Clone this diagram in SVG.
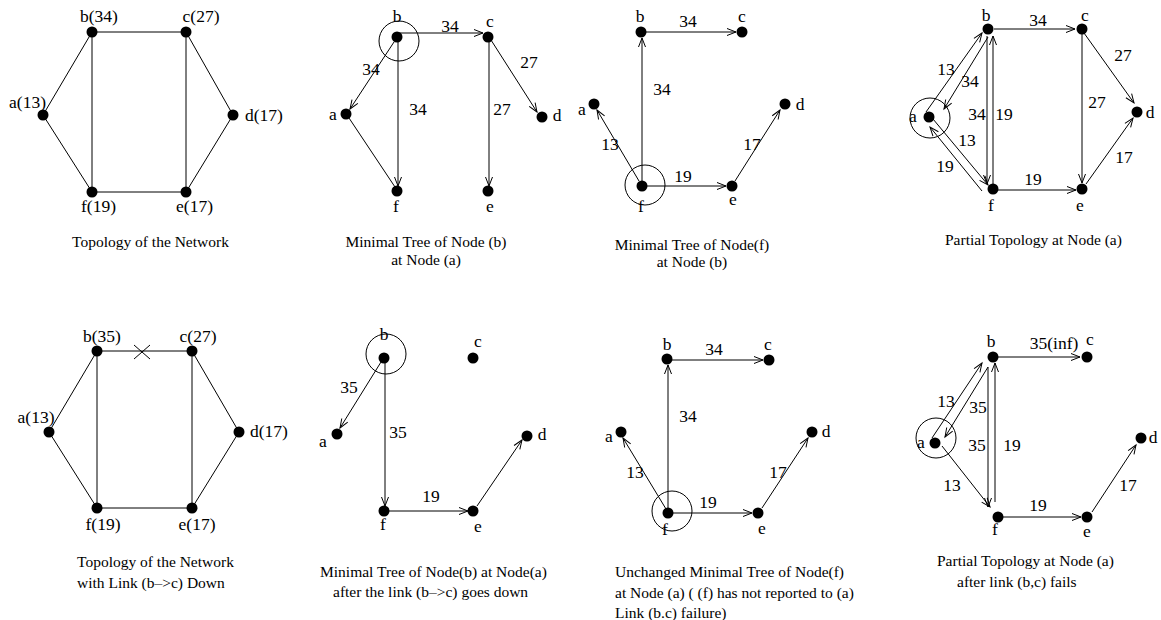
<svg xmlns="http://www.w3.org/2000/svg" width="1161" height="620" viewBox="0 0 1161 620">
<style>
.dot{fill:#000}
.ring{fill:none;stroke:#000;stroke-width:1}
.e{stroke:#000;stroke-width:1;fill:none}
.a{marker-end:url(#ah)}
text{font-family:"Liberation Serif","Times New Roman",serif;fill:#000}
.l{font-size:17.5px;text-anchor:middle}
.c{font-size:15.5px}
.m{text-anchor:middle}
</style>
<defs>
<marker id="ah" markerUnits="userSpaceOnUse" markerWidth="12" markerHeight="10" refX="9" refY="3.5" orient="auto" overflow="visible"><path d="M0,0 L9,3.5 L0,7" fill="none" stroke="#000" stroke-width="1"/></marker>
</defs>
<rect width="1161" height="620" fill="#fff"/>

<g id="connectors">
<!-- panel 1 -->
<line class="e" x1="43" y1="115" x2="92" y2="32"/>
<line class="e" x1="92" y1="32" x2="186" y2="32"/>
<line class="e" x1="186" y1="32" x2="233" y2="115"/>
<line class="e" x1="233" y1="115" x2="186" y2="192"/>
<line class="e" x1="186" y1="192" x2="92" y2="192"/>
<line class="e" x1="92" y1="192" x2="43" y2="115"/>
<line class="e" x1="92" y1="32" x2="92" y2="192"/>
<line class="e" x1="186" y1="32" x2="186" y2="192"/>
<!-- panel 2 -->
<line class="e a" x1="398" y1="33" x2="483" y2="33"/>
<line class="e a" x1="394" y1="42" x2="350" y2="109"/>
<line class="e a" x1="398" y1="37" x2="398" y2="186"/>
<line class="e" x1="349" y1="118" x2="395" y2="187"/>
<line class="e a" x1="489" y1="37" x2="489" y2="186"/>
<line class="e a" x1="491" y1="40" x2="537" y2="112"/>
<!-- panel 3 -->
<line class="e a" x1="642" y1="186" x2="642" y2="38"/>
<line class="e a" x1="646" y1="32" x2="736" y2="32"/>
<line class="e a" x1="639" y1="181" x2="597" y2="110"/>
<line class="e a" x1="646" y1="186" x2="726" y2="186"/>
<line class="e a" x1="735" y1="181" x2="780" y2="110"/>
<!-- panel 4 -->
<line class="e a" x1="926" y1="112" x2="982" y2="33"/>
<line class="e a" x1="988" y1="37" x2="944" y2="109"/>
<line class="e a" x1="987" y1="36" x2="987" y2="184"/>
<line class="e a" x1="993" y1="184" x2="993" y2="36"/>
<line class="e a" x1="933" y1="119" x2="988" y2="185"/>
<line class="e a" x1="982" y1="191" x2="930" y2="127"/>
<line class="e a" x1="994" y1="29" x2="1075" y2="29"/>
<line class="e a" x1="1084" y1="33" x2="1134" y2="103"/>
<line class="e a" x1="1082" y1="33" x2="1082" y2="183"/>
<line class="e a" x1="998" y1="190" x2="1076" y2="190"/>
<line class="e a" x1="1086" y1="184" x2="1133" y2="118"/>
<!-- panel 5 -->
<line class="e" x1="49" y1="432" x2="97" y2="351"/>
<line class="e" x1="97" y1="351" x2="192" y2="351"/>
<line class="e" x1="192" y1="351" x2="239" y2="432"/>
<line class="e" x1="239" y1="432" x2="192" y2="508"/>
<line class="e" x1="192" y1="508" x2="97" y2="508"/>
<line class="e" x1="97" y1="508" x2="49" y2="432"/>
<line class="e" x1="97" y1="351" x2="97" y2="508"/>
<line class="e" x1="192" y1="351" x2="192" y2="508"/>
<line class="e" x1="134" y1="345" x2="150" y2="359"/>
<line class="e" x1="134" y1="359" x2="150" y2="345"/>
<!-- panel 6 -->
<line class="e a" x1="381" y1="362" x2="340" y2="428"/>
<line class="e a" x1="385" y1="358" x2="385" y2="506"/>
<line class="e a" x1="389" y1="511" x2="468" y2="511"/>
<line class="e a" x1="477" y1="506" x2="522" y2="440"/>
<!-- panel 7 -->
<line class="e a" x1="672" y1="360" x2="763" y2="360"/>
<line class="e a" x1="668" y1="513" x2="668" y2="365"/>
<line class="e a" x1="666" y1="509" x2="623" y2="438"/>
<line class="e a" x1="673" y1="513" x2="752" y2="513"/>
<line class="e a" x1="762" y1="508" x2="808" y2="438"/>
<!-- panel 8 -->
<line class="e a" x1="932" y1="438" x2="982" y2="363"/>
<line class="e a" x1="988" y1="367" x2="945" y2="437"/>
<line class="e a" x1="988" y1="367" x2="988" y2="507"/>
<line class="e a" x1="995" y1="502" x2="995" y2="363"/>
<line class="e a" x1="942" y1="446" x2="990" y2="507"/>
<line class="e a" x1="998" y1="357" x2="1080" y2="357"/>
<line class="e a" x1="1003" y1="517" x2="1081" y2="517"/>
<line class="e a" x1="1092" y1="512" x2="1136" y2="445"/>
</g>

<g id="edge-labels" class="l">
<text x="450" y="32">34</text><text x="371" y="75">34</text><text x="418" y="115">34</text><text x="502" y="115">27</text><text x="529" y="68">27</text>
<text x="688" y="27">34</text><text x="662" y="95">34</text><text x="610" y="150">13</text><text x="683" y="182">19</text><text x="752" y="150">17</text>
<text x="946" y="75">13</text><text x="970" y="87">34</text><text x="977" y="120">34</text><text x="1004" y="120">19</text><text x="967" y="146">13</text><text x="945" y="172">19</text><text x="1038" y="26">34</text><text x="1123" y="61">27</text><text x="1097" y="108">27</text><text x="1124" y="163">17</text><text x="1033" y="185">19</text>
<text x="349" y="393">35</text><text x="398" y="438">35</text><text x="431" y="502">19</text>
<text x="714" y="355">34</text><text x="688" y="422">34</text><text x="635" y="478">13</text><text x="708" y="508">19</text><text x="778" y="478">17</text>
<text x="1054" y="349">35(inf)</text><text x="946" y="407">13</text><text x="978" y="413">35</text><text x="977" y="451">35</text><text x="1012" y="451">19</text><text x="952" y="491">13</text><text x="1038" y="511">19</text><text x="1128" y="491">17</text>
</g>

<!-- panel 1 nodes -->
<g id="p1-a"><circle class="dot" cx="43" cy="115" r="5.5"/><text class="l" x="27.5" y="108">a(13)</text></g>
<g id="p1-b"><circle class="dot" cx="92" cy="32" r="5.5"/><text class="l" x="99" y="22">b(34)</text></g>
<g id="p1-c"><circle class="dot" cx="186" cy="32" r="5.5"/><text class="l" x="201" y="22">c(27)</text></g>
<g id="p1-d"><circle class="dot" cx="233" cy="115" r="5.5"/><text class="l" x="264" y="121">d(17)</text></g>
<g id="p1-e"><circle class="dot" cx="186" cy="192" r="5.5"/><text class="l" x="194.5" y="212">e(17)</text></g>
<g id="p1-f"><circle class="dot" cx="92" cy="192" r="5.5"/><text class="l" x="98.5" y="212">f(19)</text></g>

<!-- panel 2 nodes -->
<g id="p2-a"><circle class="dot" cx="346" cy="114" r="5.5"/><text class="l" x="333" y="120">a</text></g>
<g id="p2-b"><circle class="ring" cx="399" cy="41" r="20"/><circle class="dot" cx="397" cy="37" r="5.5"/><text class="l" x="397" y="22">b</text></g>
<g id="p2-c"><circle class="dot" cx="488" cy="37" r="5.5"/><text class="l" x="490" y="27">c</text></g>
<g id="p2-d"><circle class="dot" cx="542" cy="117" r="5.5"/><text class="l" x="557" y="121">d</text></g>
<g id="p2-e"><circle class="dot" cx="488" cy="191" r="5.5"/><text class="l" x="490" y="212">e</text></g>
<g id="p2-f"><circle class="dot" cx="397" cy="191" r="5.5"/><text class="l" x="396" y="212">f</text></g>

<!-- panel 3 nodes -->
<g id="p3-a"><circle class="dot" cx="594" cy="104" r="5.5"/><text class="l" x="582" y="115">a</text></g>
<g id="p3-b"><circle class="dot" cx="641" cy="32" r="5.5"/><text class="l" x="640" y="22">b</text></g>
<g id="p3-c"><circle class="dot" cx="742" cy="32" r="5.5"/><text class="l" x="742" y="22">c</text></g>
<g id="p3-d"><circle class="dot" cx="785" cy="104" r="5.5"/><text class="l" x="800" y="110">d</text></g>
<g id="p3-e"><circle class="dot" cx="732" cy="186" r="5.5"/><text class="l" x="733" y="205">e</text></g>
<g id="p3-f"><circle class="ring" cx="645" cy="185" r="20"/><circle class="dot" cx="642" cy="186" r="5.5"/><text class="l" x="641" y="212">f</text></g>

<!-- panel 4 nodes -->
<g id="p4-a"><circle class="ring" cx="930" cy="118" r="20"/><circle class="dot" cx="929" cy="117" r="5.5"/><text class="l" x="913" y="122">a</text></g>
<g id="p4-b"><circle class="dot" cx="988" cy="29" r="5.5"/><text class="l" x="986" y="21">b</text></g>
<g id="p4-c"><circle class="dot" cx="1082" cy="29" r="5.5"/><text class="l" x="1085" y="21">c</text></g>
<g id="p4-d"><circle class="dot" cx="1137" cy="112" r="5.5"/><text class="l" x="1150" y="118">d</text></g>
<g id="p4-e"><circle class="dot" cx="1082" cy="189" r="5.5"/><text class="l" x="1080" y="211">e</text></g>
<g id="p4-f"><circle class="dot" cx="993" cy="189" r="5.5"/><text class="l" x="991" y="211">f</text></g>

<!-- panel 5 nodes -->
<g id="p5-a"><circle class="dot" cx="49" cy="432" r="5.5"/><text class="l" x="36" y="423">a(13)</text></g>
<g id="p5-b"><circle class="dot" cx="97" cy="351" r="5.5"/><text class="l" x="102" y="342">b(35)</text></g>
<g id="p5-c"><circle class="dot" cx="192" cy="351" r="5.5"/><text class="l" x="198" y="342">c(27)</text></g>
<g id="p5-d"><circle class="dot" cx="239" cy="432" r="5.5"/><text class="l" x="269" y="437">d(17)</text></g>
<g id="p5-e"><circle class="dot" cx="192" cy="508" r="5.5"/><text class="l" x="197" y="530">e(17)</text></g>
<g id="p5-f"><circle class="dot" cx="97" cy="508" r="5.5"/><text class="l" x="103" y="530">f(19)</text></g>

<!-- panel 6 nodes -->
<g id="p6-a"><circle class="dot" cx="337" cy="434" r="5.5"/><text class="l" x="323" y="447">a</text></g>
<g id="p6-b"><circle class="ring" cx="386" cy="354" r="20"/><circle class="dot" cx="384" cy="358" r="5.5"/><text class="l" x="384" y="340">b</text></g>
<g id="p6-c"><circle class="dot" cx="473" cy="358" r="5.5"/><text class="l" x="478" y="347">c</text></g>
<g id="p6-d"><circle class="dot" cx="527" cy="436" r="5.5"/><text class="l" x="542" y="440">d</text></g>
<g id="p6-e"><circle class="dot" cx="473" cy="511" r="5.5"/><text class="l" x="478" y="532">e</text></g>
<g id="p6-f"><circle class="dot" cx="384" cy="511" r="5.5"/><text class="l" x="383" y="530">f</text></g>

<!-- panel 7 nodes -->
<g id="p7-a"><circle class="dot" cx="621" cy="432" r="5.5"/><text class="l" x="609" y="442">a</text></g>
<g id="p7-b"><circle class="dot" cx="667" cy="359" r="5.5"/><text class="l" x="667" y="350">b</text></g>
<g id="p7-c"><circle class="dot" cx="769" cy="360" r="5.5"/><text class="l" x="768" y="350">c</text></g>
<g id="p7-d"><circle class="dot" cx="812" cy="432" r="5.5"/><text class="l" x="826" y="437">d</text></g>
<g id="p7-e"><circle class="dot" cx="758" cy="513" r="5.5"/><text class="l" x="762" y="534">e</text></g>
<g id="p7-f"><circle class="ring" cx="672" cy="511" r="20"/><circle class="dot" cx="668" cy="513" r="5.5"/><text class="l" x="665" y="535">f</text></g>

<!-- panel 8 nodes -->
<g id="p8-a"><circle class="ring" cx="936" cy="438" r="20"/><circle class="dot" cx="935" cy="443" r="5.5"/><text class="l" x="921" y="448">a</text></g>
<g id="p8-b"><circle class="dot" cx="993" cy="357" r="5.5"/><text class="l" x="991" y="347">b</text></g>
<g id="p8-c"><circle class="dot" cx="1087" cy="357" r="5.5"/><text class="l" x="1090" y="345">c</text></g>
<g id="p8-d"><circle class="dot" cx="1141" cy="438" r="5.5"/><text class="l" x="1153" y="443">d</text></g>
<g id="p8-e"><circle class="dot" cx="1087" cy="517" r="5.5"/><text class="l" x="1087" y="537">e</text></g>
<g id="p8-f"><circle class="dot" cx="998" cy="517" r="5.5"/><text class="l" x="995" y="535">f</text></g>

<g id="captions" class="c">
<text x="72" y="247">Topology of the Network</text>
<text x="426" y="247" class="m">Minimal Tree of Node (b)</text>
<text x="426" y="265" class="m">at Node (a)</text>
<text x="692" y="250" class="m">Minimal Tree of Node(f)</text>
<text x="692" y="267" class="m">at Node (b)</text>
<text x="945" y="245">Partial Topology at Node (a)</text>
<text x="77" y="567">Topology of the Network</text>
<text x="77" y="588">with Link (b–&gt;c) Down</text>
<text x="320" y="577">Minimal Tree of Node(b) at Node(a)</text>
<text x="333" y="597">after the link (b–&gt;c) goes down</text>
<text x="615" y="577">Unchanged Minimal Tree of Node(f)</text>
<text x="615" y="598">at Node (a) ( (f) has not reported to (a)</text>
<text x="615" y="618">Link (b.c) failure)</text>
<text x="937" y="566">Partial Topology at Node (a)</text>
<text x="957" y="587">after link (b,c) fails</text>
</g>
</svg>
